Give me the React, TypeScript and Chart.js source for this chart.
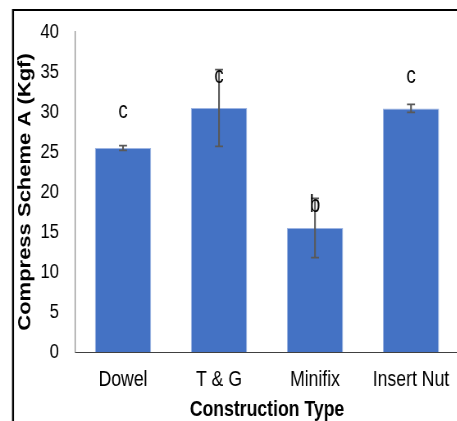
import React, { useEffect, useRef } from 'react';
import { Chart, registerables } from 'chart.js';

Chart.register(...registerables);

const categories = ['Dowel', 'T & G', 'Minifix', 'Insert Nut'];
const meanValues = [25.5, 30.5, 15.5, 30.45];
const errorValues = [0.3, 4.8, 3.7, 0.5];
const letterLabels = ['c', 'c', 'b', 'c'];
const letterValues = [30.0, 34.4, 18.3, 34.4];
const yMin = 0;
const yMax = 40;
const yStep = 5;
const xTitle = 'Construction Type';
const yTitle = 'Compress Scheme A (Kgf)';

const SANS = "'Liberation Sans', Arial, sans-serif";

// horizontal squeeze of the whole drawing (the reference text is condensed)
const SX = 0.82;
const CW = Math.round(470 / SX);
const CH = 440;

const framePlugin = {
  id: 'frame',
  beforeDraw(chart: any) {
    const ctx = chart.ctx;
    ctx.save();
    ctx.fillStyle = '#ffffff';
    ctx.fillRect(0, 0, chart.width, chart.height);
    ctx.strokeStyle = '#000000';
    ctx.lineWidth = 2;
    ctx.beginPath();
    ctx.moveTo(chart.width, 10);
    ctx.lineTo(13 / SX, 10);
    ctx.stroke();
    ctx.lineWidth = 2 / SX;
    ctx.beginPath();
    ctx.moveTo(13 / SX, 9);
    ctx.lineTo(13 / SX, chart.height);
    ctx.stroke();
    ctx.restore();
  },
};

const errorPlugin = {
  id: 'errorBarsAndLetters',
  afterDatasetsDraw(chart: any) {
    const ctx = chart.ctx;
    const xs = chart.scales.x;
    const ys = chart.scales.y;
    ctx.save();
    ctx.strokeStyle = '#595959';
    meanValues.forEach((v, i) => {
      const x = xs.getPixelForValue(i);
      const yTop = ys.getPixelForValue(v + errorValues[i]);
      const yBot = ys.getPixelForValue(v - errorValues[i]);
      ctx.lineWidth = 1.7 / SX;
      ctx.beginPath();
      ctx.moveTo(x, yTop);
      ctx.lineTo(x, yBot);
      ctx.stroke();
      ctx.lineWidth = 1.7;
      ctx.beginPath();
      ctx.moveTo(x - 4 / SX, yTop);
      ctx.lineTo(x + 4 / SX, yTop);
      ctx.moveTo(x - 4 / SX, yBot);
      ctx.lineTo(x + 4 / SX, yBot);
      ctx.stroke();
    });
    ctx.fillStyle = '#000000';
    ctx.font = `23px ${SANS}`;
    ctx.textAlign = 'center';
    ctx.textBaseline = 'middle';
    letterLabels.forEach((t, i) => {
      const x = xs.getPixelForValue(i);
      const y = ys.getPixelForValue(letterValues[i]);
      ctx.fillText(t, x, y);
    });
    ctx.restore();
  },
};

export default function App() {
  const ref = useRef<HTMLCanvasElement | null>(null);
  useEffect(() => {
    if (!ref.current) return;
    const chart = new Chart(ref.current, {
      type: 'bar',
      data: {
        labels: categories,
        datasets: [
          {
            data: meanValues,
            backgroundColor: '#4472C4',
            borderColor: '#9DB4E2',
            borderWidth: { left: 1, right: 1, top: 1, bottom: 0 },
            borderSkipped: false,
            barPercentage: 0.585,
            categoryPercentage: 1,
          },
        ],
      },
      options: {
        responsive: false,
        animation: false,
        devicePixelRatio: 1,
        layout: { padding: { left: 0, right: CW - 459 / SX, top: 32, bottom: 0 } },
        plugins: { legend: { display: false }, tooltip: { enabled: false } },
        scales: {
          x: {
            grid: { display: false, drawTicks: false },
            border: { display: true, color: '#404040', width: 1 },
            ticks: { color: '#000000', font: { family: SANS, size: 21.5 }, padding: 15, maxRotation: 0, autoSkip: false },
            title: {
              display: true,
              text: xTitle,
              color: '#000000',
              font: { family: SANS, size: 21.5, weight: 'bold' },
              padding: { top: 0, bottom: 17 },
            },
            afterFit(scale: any) {
              scale.height = CH - 352;
            },
          },
          y: {
            min: yMin,
            max: yMax,
            grid: { display: false, drawTicks: false },
            border: { display: true, color: '#868686', width: 1 / SX },
            ticks: { stepSize: yStep, color: '#000000', font: { family: SANS, size: 20.5 }, padding: 16 / SX },
            title: {
              display: true,
              text: yTitle,
              color: '#000000',
              font: { family: SANS, size: 22, weight: 'bold' },
              padding: { top: 18, bottom: 0 },
            },
            afterFit(scale: any) {
              scale.width = 75 / SX;
            },
          },
        },
      },
      plugins: [framePlugin, errorPlugin],
    });
    return () => chart.destroy();
  }, []);
  return (
    <div style={{ position: 'absolute', left: 0, top: 0, width: 457, height: 421, overflow: 'hidden', background: '#fff' }}>
      <canvas
        ref={ref}
        width={CW}
        height={CH}
        style={{ width: CW, height: CH, display: 'block', transform: `scaleX(${SX})`, transformOrigin: '0 0' }}
      />
    </div>
  );
}
